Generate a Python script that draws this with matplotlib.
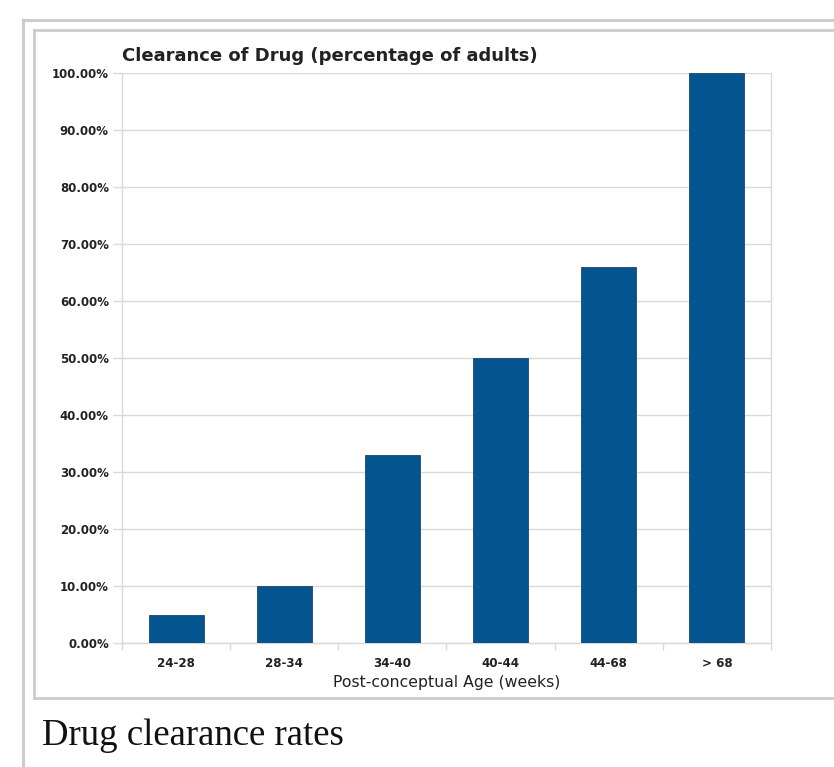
import matplotlib
matplotlib.use("Agg")
import matplotlib.pyplot as plt
from matplotlib.lines import Line2D
from matplotlib.ticker import FixedLocator, PercentFormatter

categories = ["24-28", "28-34", "34-40", "40-44", "44-68", "> 68"]
clearance_pct = [5, 10, 33, 50, 66, 100]
y_ticks = [0, 10, 20, 30, 40, 50, 60, 70, 80, 90, 100]

W, H = 834, 767
fig = plt.figure(figsize=(W / 100, H / 100), dpi=100)
fig.patch.set_facecolor("white")

def fx(px):
    return px / W

def fy(py):
    return 1 - py / H

frame_col = "#cccccc"
# thumbnail frame (outer) and image border (inner)
fig.add_artist(Line2D([fx(23), fx(23)], [fy(20), fy(767)], color=frame_col, lw=2.2))
fig.add_artist(Line2D([fx(23), fx(834)], [fy(20), fy(20)], color=frame_col, lw=2.2))
fig.add_artist(Line2D([fx(34), fx(34)], [fy(30), fy(698)], color=frame_col, lw=2.0))
fig.add_artist(Line2D([fx(34), fx(834)], [fy(30), fy(30)], color=frame_col, lw=2.0))
fig.add_artist(Line2D([fx(34), fx(834)], [fy(698), fy(698)], color=frame_col, lw=2.0))

ax = fig.add_axes([fx(122), fy(643), (771 - 122) / W, (643 - 73) / H])
x = list(range(len(categories)))
ax.bar(x, clearance_pct, width=0.51, color="#03548f", edgecolor="#20446a", linewidth=0.6, zorder=3)
ax.set_xlim(-0.5, len(categories) - 0.5)
ax.set_ylim(0, 100)

grid_col = "#d9d9d9"
text_col = "#222222"
ax.yaxis.set_major_locator(FixedLocator(y_ticks))
ax.yaxis.set_major_formatter(PercentFormatter(decimals=2))
ax.grid(axis="y", color=grid_col, lw=1.0, zorder=0)
ax.set_xticks(x)
ax.set_xticklabels(categories)
ax.set_xticks([i - 0.5 for i in range(len(categories) + 1)], minor=True)
ax.tick_params(axis="x", which="major", length=0, pad=10, labelsize=8.6, labelcolor=text_col)
ax.tick_params(axis="x", which="minor", length=5, color=grid_col, width=1.0)
ax.tick_params(axis="y", length=6.5, color=grid_col, width=1.0, pad=3, labelsize=8.5, labelcolor=text_col)
for lab in ax.get_xticklabels() + ax.get_yticklabels():
    lab.set_fontweight("bold")
    lab.set_family("DejaVu Sans")

for side in ["left", "bottom", "right"]:
    ax.spines[side].set_color(grid_col)
    ax.spines[side].set_linewidth(1.0)
ax.spines["top"].set_visible(False)

ax.set_xlabel("Post-conceptual Age (weeks)", family="DejaVu Sans", fontsize=11.3,
              color=text_col, labelpad=4)

fig.text(fx(122), fy(61), "Clearance of Drug (percentage of adults)", family="DejaVu Sans",
         fontweight="bold", fontsize=13, color=text_col, va="baseline", ha="left")

fig.text(fx(42), fy(745), "Drug clearance rates", family="Liberation Serif", fontsize=26.5,
         color="#111111", va="baseline", ha="left")

fig.savefig("out.png", dpi=100, facecolor="white")
